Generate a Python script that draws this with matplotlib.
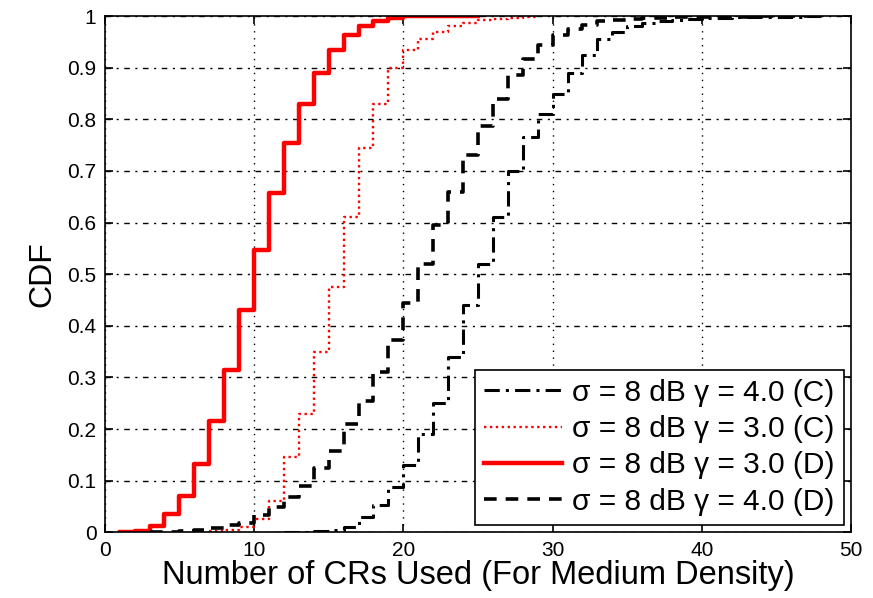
import matplotlib
matplotlib.use("Agg")
import matplotlib.pyplot as plt

plt.rcParams['font.family'] = ['Liberation Sans', 'DejaVu Sans']

# x positions (number of CRs) and CDF values for each curve
x_c40 = list(range(12, 49))
cdf_c40 = [0.0, 0.001, 0.002, 0.005, 0.01, 0.03, 0.052, 0.087, 0.13, 0.19,
           0.25, 0.34, 0.44, 0.52, 0.61, 0.70, 0.765, 0.81, 0.85, 0.89,
           0.925, 0.955, 0.97, 0.98, 0.986, 0.99, 0.993, 0.995, 0.996, 0.997,
           0.998, 0.998, 0.999, 0.999, 0.999, 1.0, 1.0]

x_c30 = list(range(7, 30))
cdf_c30 = [0.002, 0.005, 0.01, 0.025, 0.06, 0.145, 0.23, 0.35, 0.475, 0.61,
           0.745, 0.83, 0.90, 0.935, 0.955, 0.97, 0.98, 0.987, 0.992, 0.995,
           0.997, 0.999, 1.0]

x_d30 = list(range(1, 26))
cdf_d30 = [0.0, 0.003, 0.012, 0.035, 0.07, 0.133, 0.215, 0.314, 0.43, 0.547,
           0.657, 0.754, 0.83, 0.89, 0.935, 0.963, 0.98, 0.99, 0.997, 1.0,
           1.0, 1.0, 1.0, 1.0, 1.0]

x_d40 = list(range(3, 49))
cdf_d40 = [0.0, 0.001, 0.003, 0.005, 0.008, 0.014, 0.018, 0.033, 0.048, 0.068,
           0.09, 0.124, 0.157, 0.21, 0.254, 0.31, 0.372, 0.444, 0.52, 0.595,
           0.66, 0.73, 0.787, 0.84, 0.886, 0.917, 0.944, 0.963, 0.975, 0.983,
           0.99, 0.993, 0.995, 0.996, 0.997, 0.998, 0.998, 0.999, 0.999, 0.999,
           1.0, 1.0, 1.0, 1.0, 1.0, 1.0]

labels = ["\u03c3 = 8 dB \u03b3 = 4.0 (C)", "\u03c3 = 8 dB \u03b3 = 3.0 (C)",
          "\u03c3 = 8 dB \u03b3 = 3.0 (D)", "\u03c3 = 8 dB \u03b3 = 4.0 (D)"]

fig = plt.figure(figsize=(8.73, 5.98), dpi=100)
ax = fig.add_axes([0.120, 0.110, 0.855, 0.863])

ax.step(x_c40, cdf_c40, where='post', color='black', lw=2.2,
        linestyle=(0, (5, 2, 1, 2)), label=labels[0])
ax.step(x_c30, cdf_c30, where='post', color='red', lw=1.7,
        linestyle=(0, (1, 1.5)), label=labels[1])
ax.step(x_d30, cdf_d30, where='post', color='red', lw=3.2,
        linestyle='-', label=labels[2])
ax.step(x_d40, cdf_d40, where='post', color='black', lw=2.6,
        linestyle=(0, (3.5, 2.5)), label=labels[3])

ax.set_xlim(0, 50)
ax.set_ylim(0, 1)
ax.set_xticks([0, 10, 20, 30, 40, 50])
ax.set_yticks([0, 0.1, 0.2, 0.3, 0.4, 0.5, 0.6, 0.7, 0.8, 0.9, 1])
ax.set_yticklabels(['0', '0.1', '0.2', '0.3', '0.4', '0.5', '0.6', '0.7', '0.8', '0.9', '1'])
ax.tick_params(direction='in', top=True, right=True, length=6, width=1.2,
               labelsize=15, pad=6)
for s in ax.spines.values():
    s.set_linewidth(1.2)

ax.xaxis.grid(True, color='black', linestyle=(0, (1, 4)), lw=1.0)
ax.yaxis.grid(True, color='black', linestyle=(0, (4, 4, 1.5, 4)), lw=1.0)
ax.set_axisbelow(True)

ax.set_xlabel("Number of CRs Used (For Medium Density)", fontsize=23.5, labelpad=0)
ax.set_ylabel("CDF", fontsize=23, labelpad=7)

leg = ax.legend(loc='lower right', fontsize=21.5, frameon=True, fancybox=False,
                edgecolor='black', framealpha=1, handlelength=2.6,
                borderpad=0.3, labelspacing=0.28, handletextpad=0.35,
                borderaxespad=0.25)
leg.get_frame().set_linewidth(1.2)

fig.savefig("out.png", dpi=100)
